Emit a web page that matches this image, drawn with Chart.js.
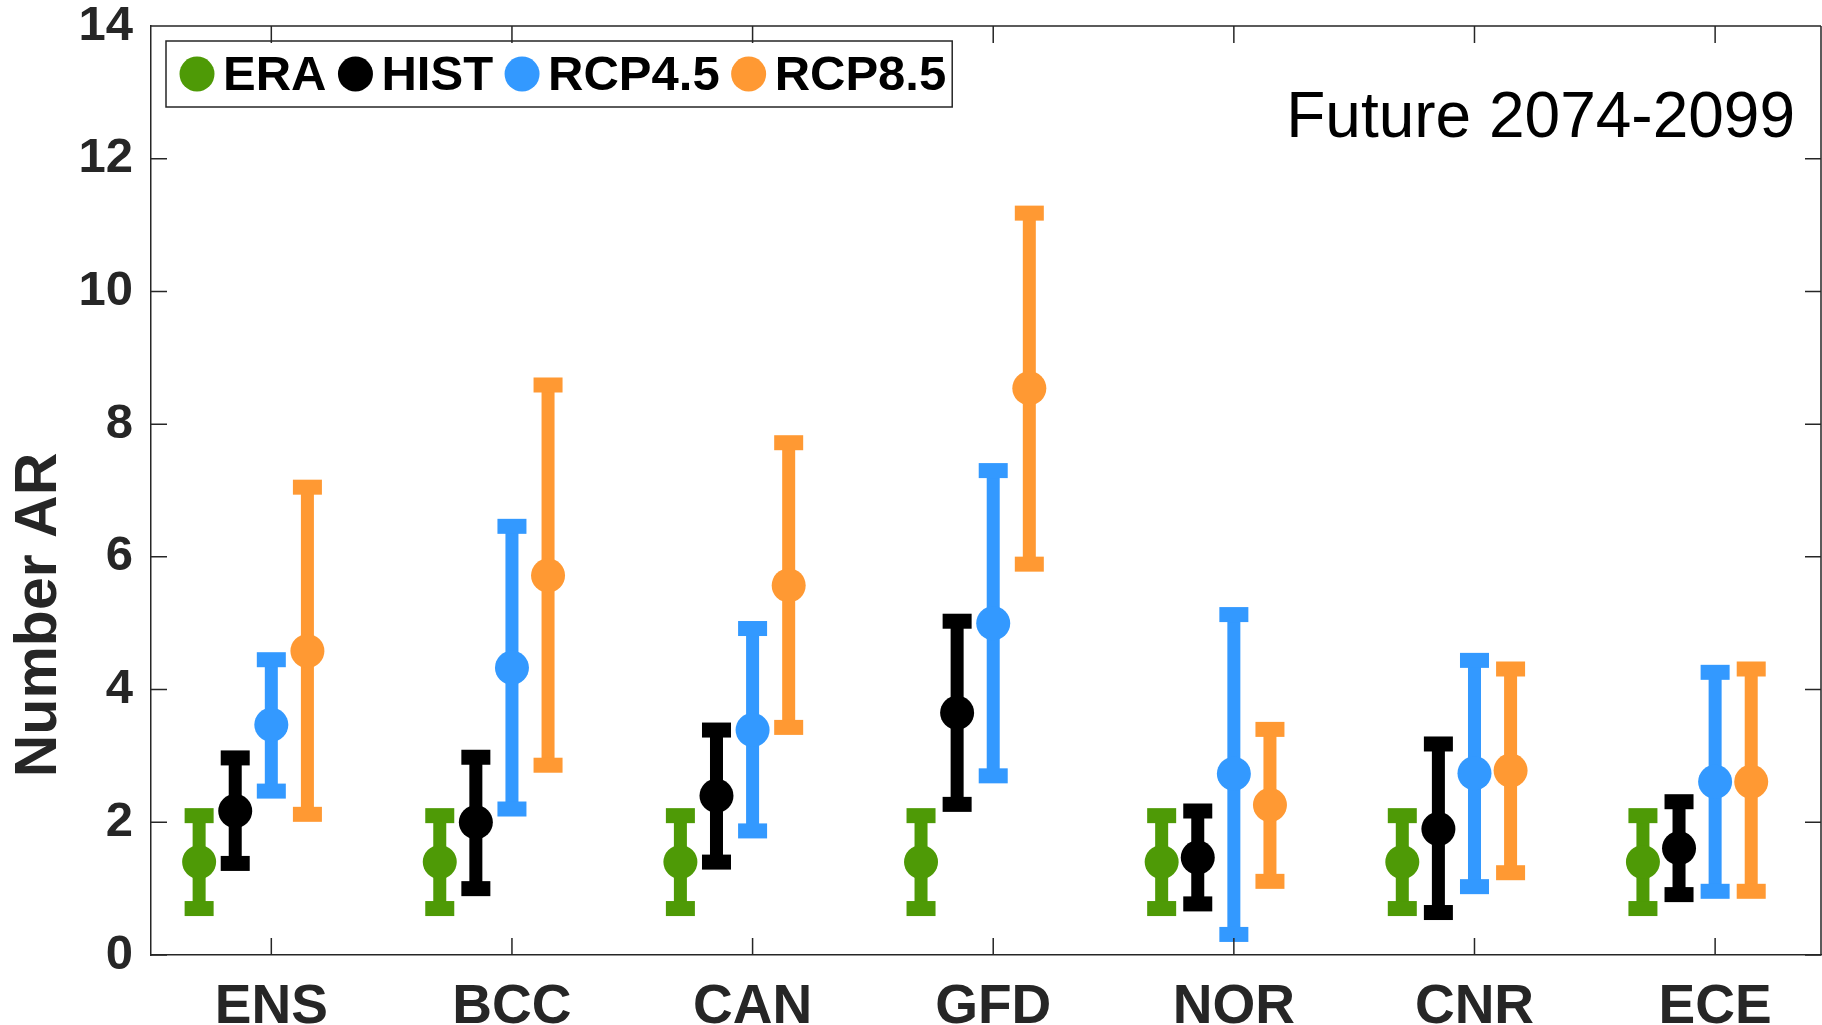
<!DOCTYPE html>
<html>
<head>
<meta charset="utf-8">
<script src="https://cdn.jsdelivr.net/npm/chart.js@4.4.1/dist/chart.umd.min.js"></script>
<style>
  html, body { margin: 0; padding: 0; background: #fff; }
</style>
</head>
<body>
<canvas id="myChart" width="1822" height="1025"></canvas>
<script>
// data
const models = ['ENS', 'BCC', 'CAN', 'GFD', 'NOR', 'CNR', 'ECE'];
const seriesNames = ['ERA', 'HIST', 'RCP4.5', 'RCP8.5'];

const eraMean = [1.4, 1.4, 1.4, 1.4, 1.4, 1.4, 1.4];
const eraLow  = [0.7, 0.7, 0.7, 0.7, 0.7, 0.7, 0.7];
const eraHigh = [2.1, 2.1, 2.1, 2.1, 2.1, 2.1, 2.1];

const histMean = [2.17, 2.0, 2.4, 3.65, 1.47, 1.9, 1.61];
const histLow  = [1.38, 1.0, 1.4, 2.27, 0.77, 0.64, 0.91];
const histHigh = [2.97, 2.98, 3.39, 5.03, 2.17, 3.18, 2.31];

const rcp45Mean = [3.47, 4.33, 3.39, 5.0, 2.73, 2.74, 2.61];
const rcp45Low  = [2.47, 2.2, 1.87, 2.7, 0.31, 1.03, 0.96];
const rcp45High = [4.45, 6.46, 4.92, 7.3, 5.13, 4.44, 4.26];

const rcp85Mean = [4.58, 5.72, 5.57, 8.54, 2.26, 2.78, 2.61];
const rcp85Low  = [2.12, 2.86, 3.43, 5.89, 1.11, 1.24, 0.96];
const rcp85High = [7.05, 8.59, 7.72, 11.18, 3.4, 4.31, 4.31];

const yTicks = [0, 2, 4, 6, 8, 10, 12, 14];

const colors = ['#4e9a06', '#000000', '#3399ff', '#ff9933'];
const offsets = [-0.3, -0.15, 0, 0.15];
const FONT = '"Liberation Sans", Arial, Helvetica, sans-serif';
const AXIS = '#262626';

function makePoints(k, mean, low, high) {
  return models.map((m, i) => ({ x: i + 1 + offsets[k], y: mean[i], low: low[i], high: high[i] }));
}

const data = {
  datasets: [
    { label: seriesNames[0], data: makePoints(0, eraMean, eraLow, eraHigh) },
    { label: seriesNames[1], data: makePoints(1, histMean, histLow, histHigh) },
    { label: seriesNames[2], data: makePoints(2, rcp45Mean, rcp45Low, rcp45High) },
    { label: seriesNames[3], data: makePoints(3, rcp85Mean, rcp85Low, rcp85High) }
  ].map((d, k) => Object.assign(d, {
    backgroundColor: colors[k],
    borderColor: colors[k],
    pointRadius: 17,
    pointHoverRadius: 17,
    borderWidth: 0,
    showLine: false
  }))
};

// whiskers + caps, drawn under the markers
const errorBars = {
  id: 'errorBars',
  beforeDatasetsDraw(chart) {
    const { ctx, scales: { x, y } } = chart;
    chart.data.datasets.forEach(ds => {
      ds.data.forEach(p => {
        const px = x.getPixelForValue(p.x);
        const top = y.getPixelForValue(p.high);
        const bot = y.getPixelForValue(p.low);
        ctx.save();
        ctx.fillStyle = ds.backgroundColor;
        ctx.fillRect(px - 6.5, top, 13, bot - top);
        ctx.fillRect(px - 14.5, top - 7.5, 29, 15);
        ctx.fillRect(px - 14.5, bot - 7.5, 29, 15);
        ctx.restore();
      });
    });
  }
};

// box, inward ticks, legend, y title, period label
const decorations = {
  id: 'decorations',
  afterDraw(chart) {
    const { ctx, chartArea: a, scales: { x, y } } = chart;
    ctx.save();
    ctx.strokeStyle = AXIS;
    ctx.lineWidth = 1.5;
    ctx.beginPath();
    ctx.moveTo(a.left, a.top); ctx.lineTo(a.right, a.top);
    ctx.moveTo(a.right, a.top); ctx.lineTo(a.right, a.bottom);
    y.ticks.forEach(t => {
      const py = y.getPixelForValue(t.value);
      ctx.moveTo(a.left, py); ctx.lineTo(a.left + 16, py);
      ctx.moveTo(a.right, py); ctx.lineTo(a.right - 16, py);
    });
    x.ticks.forEach(t => {
      const px = x.getPixelForValue(t.value);
      ctx.moveTo(px, a.bottom); ctx.lineTo(px, a.bottom - 17);
      ctx.moveTo(px, a.top); ctx.lineTo(px, a.top + 17);
    });
    ctx.stroke();

    // legend
    const L = a.left + 15, T = a.top + 15, H = 66, cy = T + H / 2;
    ctx.font = 'bold 49px ' + FONT;
    ctx.textBaseline = 'middle';
    let cx = L + 31;
    chart.data.datasets.forEach((ds, k) => {
      ctx.fillStyle = ds.backgroundColor;
      ctx.beginPath();
      ctx.arc(cx, cy, 17.5, 0, Math.PI * 2);
      ctx.fill();
      ctx.fillStyle = '#000';
      ctx.textAlign = 'left';
      const tx = cx + 26;
      ctx.fillText(ds.label, tx, cy + 2);
      const w = ctx.measureText(ds.label).width;
      if (k < chart.data.datasets.length - 1) cx = tx + w + 29;
      else cx = tx + w;
    });
    ctx.strokeStyle = AXIS;
    ctx.lineWidth = 1.5;
    ctx.strokeRect(L, T, cx + 6 - L, H);

    // period label
    ctx.fillStyle = '#000';
    ctx.font = '64px ' + FONT;
    ctx.textAlign = 'right';
    ctx.textBaseline = 'alphabetic';
    ctx.fillText('Future 2074-2099', 1795, 137);

    // y axis title
    ctx.save();
    ctx.translate(56, 615);
    ctx.rotate(-Math.PI / 2);
    ctx.font = 'bold 59px ' + FONT;
    ctx.fillStyle = AXIS;
    ctx.textAlign = 'center';
    ctx.textBaseline = 'alphabetic';
    ctx.fillText('Number AR', 0, 0);
    ctx.restore();
    ctx.restore();
  }
};

const config = {
  type: 'scatter',
  data,
  options: {
    responsive: false,
    animation: false,
    layout: { autoPadding: false, padding: { top: 26, right: 1, left: 0, bottom: 0 } },
    plugins: { legend: { display: false }, tooltip: { enabled: false } },
    scales: {
      x: {
        type: 'linear',
        min: 0.5,
        max: 7.44,
        afterBuildTicks: s => { s.ticks = models.map((m, i) => ({ value: i + 1 })); },
        afterFit: s => { s.height = 70; s.paddingLeft = 0; s.paddingRight = 0; },
        grid: { display: false, drawTicks: false },
        border: { display: true, color: AXIS, width: 1.5 },
        ticks: {
          padding: 20,
          color: AXIS,
          font: { family: FONT, size: 55, weight: 'bold' },
          maxRotation: 0,
          callback: v => models[v - 1]
        }
      },
      y: {
        min: 0,
        max: 14,
        afterBuildTicks: s => { s.ticks = yTicks.map(v => ({ value: v })); },
        afterFit: s => { s.width = 151; s.paddingTop = 0; s.paddingBottom = 0; },
        grid: { display: false, drawTicks: false },
        border: { display: true, color: AXIS, width: 1.5 },
        ticks: {
          padding: 18,
          color: AXIS,
          font: { family: FONT, size: 49, weight: 'bold' }
        }
      }
    }
  },
  plugins: [errorBars, decorations]
};

const myChart = new Chart(document.getElementById('myChart'), config);
</script>
</body>
</html>
